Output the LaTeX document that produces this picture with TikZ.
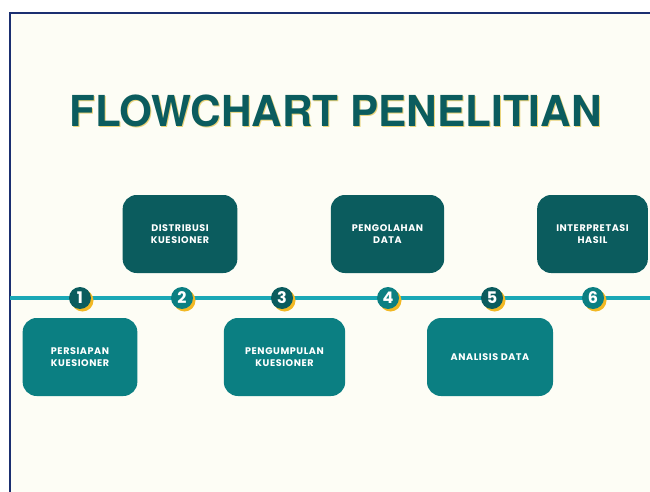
\documentclass[tikz,border=0pt]{standalone}
\usepackage{fontspec}
\usepackage{tikz}
\usetikzlibrary{calc,positioning,backgrounds}
\newfontfamily\titlefont{TeX Gyre Heros}
\newfontfamily\boxfont{Poppins}[LetterSpace=6]
\definecolor{paper}{HTML}{FDFDF5}
\definecolor{frame}{HTML}{1B2F70}
\definecolor{darkteal}{HTML}{0B5C5E}
\definecolor{midteal}{HTML}{0B7F82}
\definecolor{linecyan}{HTML}{1AA8B6}
\definecolor{sun}{HTML}{F2B824}
\definecolor{titleshade}{HTML}{E9D37A}

\begin{document}
\begin{tikzpicture}[x=0.75pt, y=-0.75pt,
  box/.style={rounded corners=10.5pt, minimum width=86pt, minimum height=58.5pt,
    align=center, text=white, inner sep=2pt, font=\boxfont\bfseries\fontsize{7.2}{8.6}\selectfont},
  upbox/.style={box, fill=darkteal},
  lowbox/.style={box, fill=midteal},
  titletext/.style={font=\titlefont\bfseries\fontsize{32}{32}\selectfont, xscale=0.99}]
\tikzstyle{num}=[circle, minimum size=16.5pt, inner sep=0pt, text=white, font=\boxfont\bfseries\fontsize{12}{12}\selectfont]
\useasboundingbox (0,0) rectangle (650,492);
% page and frame
\fill[white] (0,0) rectangle (650,492);
\fill[paper] (10,13) rectangle (650,492);
\draw[frame, line width=1.8pt] (10,492) -- (10,13) -- (650,13);
% title with a soft yellow shade
\node[titletext, text=titleshade] at (336.5,111.5) {FLOWCHART PENELITIAN};
\node[titletext, text=darkteal] (title) at (335.5,110.5) {FLOWCHART PENELITIAN};
% timeline
\coordinate (lstart) at (10,298);
\coordinate (lend) at (650,298);
\draw[linecyan, line width=2.3pt] (lstart) -- (lend);
% numbered steps
\foreach \i/\x/\c in {1/80/darkteal, 2/182/midteal, 3/282/darkteal, 4/388/midteal, 5/492/darkteal, 6/593/midteal}{
  \fill[sun] (\x+2.5,300.5) circle (11);
  \node[num, fill=\c] (n\i) at (\x,298) {\i};
}
% step boxes
\node[lowbox] (persiapan) at (80,357) {PERSIAPAN\\KUESIONER};
\node[upbox] (distribusi) at (180,234) {DISTRIBUSI\\KUESIONER};
\node[lowbox, minimum width=91pt] (pengumpulan) at (284.5,357) {PENGUMPULAN\\KUESIONER};
\node[upbox, minimum width=85pt] (pengolahan) at (387.5,234) {PENGOLAHAN\\DATA};
\node[lowbox, minimum width=94.5pt] (analisis) at (490,357) {ANALISIS DATA};
\node[upbox, minimum width=83pt] (interpretasi) at (592.5,234) {INTERPRETASI\\HASIL};
\end{tikzpicture}
\end{document}
